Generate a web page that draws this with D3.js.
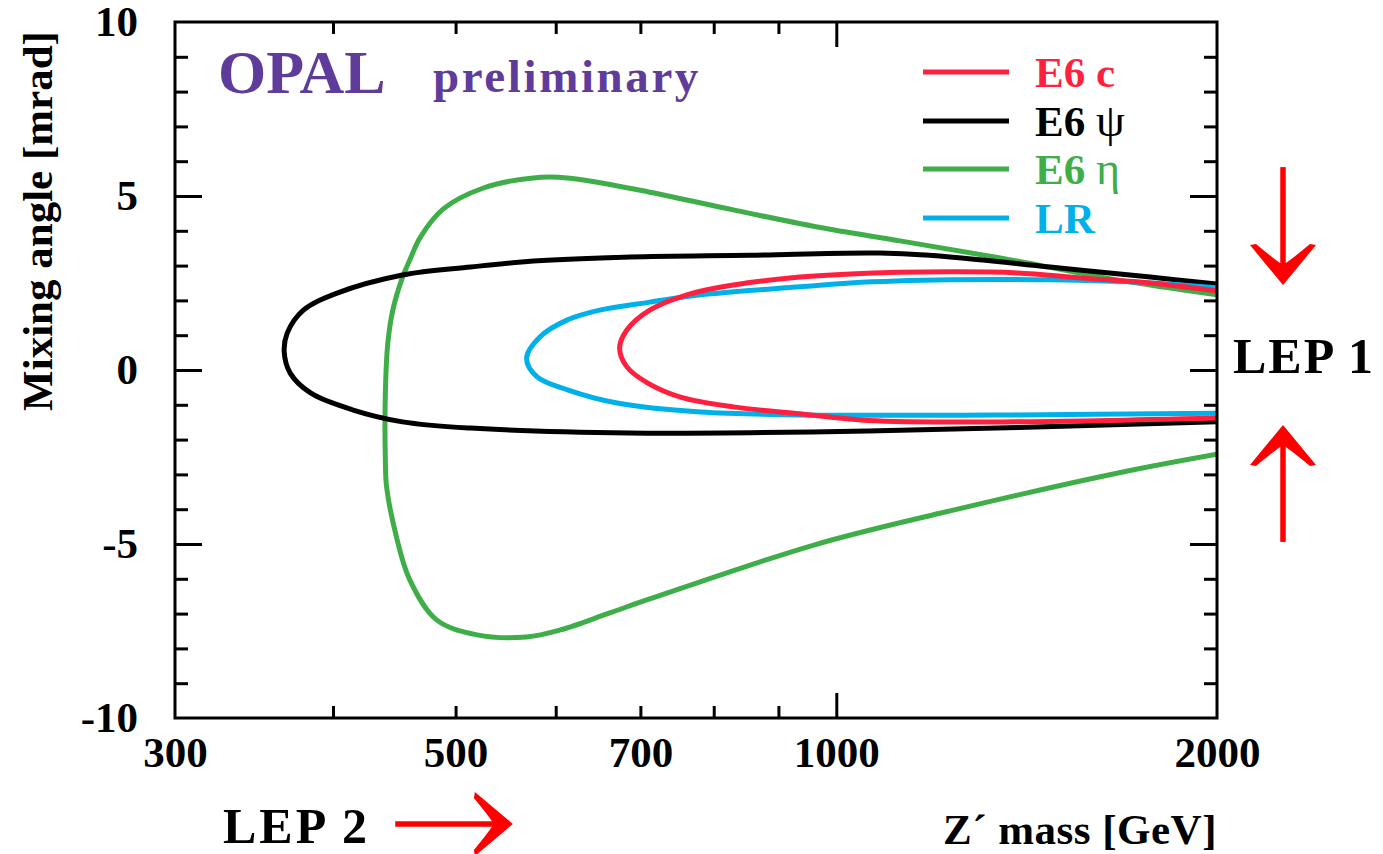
<!DOCTYPE html>
<html>
<head>
<meta charset="utf-8">
<script src="https://cdn.jsdelivr.net/npm/d3@7"></script>
<style>
  html, body { margin: 0; padding: 0; background: #fff; }
  svg { display: block; }
  text { font-family: "Liberation Serif", "Times New Roman", serif; font-weight: bold; }
</style>
</head>
<body>
<svg id="chart" width="1383" height="854"></svg>
<script>
// Z' mass [GeV] versus mixing angle [mrad]: 95% CL allowed-region contours
const massLabels = [300, 500, 700, 1000, 2000];
const massMinorTicks = [400, 500, 600, 700, 800, 900];
const massMajorTicks = [1000];
const angleLabels = [-10, -5, 0, 5, 10];
const angleMinorTicks = d3.range(-9, 10, 1).filter(v => v % 5 !== 0);
const angleMajorTicks = [-5, 0, 5];

const seriesNames = ["E6 c", "E6 ψ", "E6 η", "LR"];
const seriesColors = ["#ff1f3e", "#000000", "#3fae49", "#00b0e8"];

// each contour: [mass GeV, angle mrad], traced from the upper right around to the lower right
const contourE6c = [
  [2000, 2.27], [1771, 2.50], [1567, 2.64], [1390, 2.79], [1230, 2.82], [1026, 2.76],
  [936, 2.67], [829, 2.44], [762, 2.16], [712, 1.72], [683, 1.15], [674, 0.63],
  [683, 0.09], [709, -0.37], [753, -0.78], [829, -1.06], [936, -1.26], [1060, -1.45],
  [1382, -1.49], [2000, -1.38]
];
const contourE6psi = [
  [2000, 2.47], [1771, 2.67], [1476, 2.96], [1230, 3.25], [1083, 3.36], [855, 3.30],
  [687, 3.25], [576, 3.13], [514, 2.96], [454, 2.73], [403, 2.21], [379, 1.72],
  [368, 1.06], [366, 0.52], [370, -0.09], [384, -0.66], [415, -1.15], [454, -1.49],
  [514, -1.67], [687, -1.81], [1060, -1.75], [2000, -1.49]
];
const contourE6eta = [
  [2000, 2.16], [1667, 2.59], [1348, 3.22], [1123, 3.71], [966, 4.11], [829, 4.60],
  [712, 5.11], [613, 5.52], [576, 5.52], [526, 5.23], [489, 4.63], [469, 3.82],
  [460, 3.16], [454, 2.67], [446, 1.72], [442, 0.78], [440, -0.66], [440, -2.59],
  [441, -3.36], [449, -4.80], [460, -6.03], [483, -7.18], [520, -7.61], [569, -7.67],
  [605, -7.47], [662, -6.98], [712, -6.58], [960, -5.03], [1210, -4.11], [1685, -2.93],
  [2000, -2.42]
];
const contourLR = [
  [2000, 2.36], [1771, 2.50], [1476, 2.59], [1230, 2.59], [1026, 2.50], [936, 2.39],
  [781, 2.16], [712, 1.95], [650, 1.72], [613, 1.44], [583, 0.95], [569, 0.34],
  [580, -0.20], [613, -0.57], [671, -0.95], [781, -1.21], [936, -1.29], [1382, -1.29],
  [2000, -1.24]
];
const contours = [contourE6c, contourE6psi, contourE6eta, contourLR];

// LEP 1 excluded-angle arrows (mrad) and LEP 2 mass-reach arrow (GeV)
const lep1Upper = [5.83, 2.44];   // tail, tip
const lep1Lower = [-4.94, -1.58]; // tail, tip
const lep2Mass = [448, 555];      // tail, tip

const W = 1383, H = 854;
const plot = { left: 175, right: 1217, top: 22, bottom: 718 };
const serif = "'Liberation Serif', 'Times New Roman', serif";

const svg = d3.select("#chart");
svg.append("rect").attr("width", W).attr("height", H).attr("fill", "#fff");

const x = d3.scaleLog().domain([300, 2000]).range([plot.left, plot.right]);
const y = d3.scaleLinear().domain([-10, 10]).range([plot.bottom, plot.top]);

svg.append("defs").append("clipPath").attr("id", "plotClip")
  .append("rect")
  .attr("x", plot.left).attr("y", plot.top)
  .attr("width", plot.right - plot.left).attr("height", plot.bottom - plot.top);

// contours
const line = d3.line()
  .x(d => x(d[0])).y(d => y(d[1]))
  .curve(d3.curveCatmullRom.alpha(0.5));

const curves = svg.append("g").attr("clip-path", "url(#plotClip)");
// drawing order: green, black, cyan, red on top
[2, 1, 3, 0].forEach(i => {
  curves.append("path")
    .datum(contours[i])
    .attr("d", line)
    .attr("fill", "none")
    .attr("stroke", seriesColors[i])
    .attr("stroke-width", 5)
    .attr("stroke-linejoin", "round");
});

// ticks on all four sides, pointing inward
function tickAxis(axisFn, scale, values, size, translate) {
  const g = svg.append("g")
    .attr("transform", translate)
    .call(axisFn(scale).tickValues(values).tickSize(-size).tickFormat(""));
  g.select(".domain").remove();
  g.selectAll(".tick line").attr("stroke", "#000").attr("stroke-width", 3);
  return g;
}
tickAxis(d3.axisBottom, x, massMinorTicks, 12, `translate(0,${plot.bottom})`);
tickAxis(d3.axisBottom, x, massMajorTicks, 25, `translate(0,${plot.bottom})`);
tickAxis(d3.axisTop, x, massMinorTicks, 12, `translate(0,${plot.top})`);
tickAxis(d3.axisTop, x, massMajorTicks, 25, `translate(0,${plot.top})`);
tickAxis(d3.axisLeft, y, angleMinorTicks, 13, `translate(${plot.left},0)`);
tickAxis(d3.axisLeft, y, angleMajorTicks, 27, `translate(${plot.left},0)`);
tickAxis(d3.axisRight, y, angleMinorTicks, 13, `translate(${plot.right},0)`);
tickAxis(d3.axisRight, y, angleMajorTicks, 27, `translate(${plot.right},0)`);

// frame
svg.append("rect")
  .attr("x", plot.left).attr("y", plot.top)
  .attr("width", plot.right - plot.left).attr("height", plot.bottom - plot.top)
  .attr("fill", "none").attr("stroke", "#000").attr("stroke-width", 3);

// tick labels (plain hyphen for negatives)
const plainFormat = d => String(d);
const xLab = svg.append("g")
  .attr("transform", `translate(0,${plot.bottom})`)
  .call(d3.axisBottom(x).tickValues(massLabels).tickSize(0).tickPadding(18).tickFormat(plainFormat));
xLab.select(".domain").remove();
xLab.selectAll("text").attr("font-size", 43).attr("fill", "#000")
  .attr("font-family", serif).attr("font-weight", "bold");

const yLab = svg.append("g")
  .attr("transform", `translate(${plot.left},0)`)
  .call(d3.axisLeft(y).tickValues(angleLabels).tickSize(0).tickPadding(37).tickFormat(plainFormat));
yLab.select(".domain").remove();
yLab.selectAll("text").attr("font-size", 43).attr("fill", "#000")
  .attr("font-family", serif).attr("font-weight", "bold");

// axis titles
svg.append("text")
  .attr("transform", "translate(52,221) rotate(-90)")
  .attr("text-anchor", "middle")
  .attr("font-size", 43)
  .text("Mixing angle [mrad]");

svg.append("text")
  .attr("x", plot.right).attr("y", 844)
  .attr("text-anchor", "end")
  .attr("font-size", 43)
  .attr("letter-spacing", 0.5)
  .text("Z´ mass [GeV]");

// experiment label
svg.append("text").attr("x", 218).attr("y", 93)
  .attr("font-size", 62).attr("fill", "#5f3c99").text("OPAL");
svg.append("text").attr("x", 433).attr("y", 92)
  .attr("font-size", 47).attr("letter-spacing", 2.6).attr("fill", "#5f3c99").text("preliminary");

// legend
const legend = svg.append("g");
const legendRows = [72, 121, 169, 218];
seriesNames.forEach((name, i) => {
  const ly = legendRows[i];
  legend.append("line")
    .attr("x1", 923).attr("x2", 1009).attr("y1", ly).attr("y2", ly)
    .attr("stroke", seriesColors[i]).attr("stroke-width", 5);
  const t = legend.append("text")
    .attr("x", 1035).attr("y", ly + 15)
    .attr("font-size", 43).attr("fill", seriesColors[i]);
  const parts = name.split(" ");
  t.append("tspan").text(parts[0] + " ");
  if (parts[1]) {
    const greek = /[ψη]/.test(parts[1]);
    t.append("tspan")
      .attr("font-weight", greek ? "normal" : "bold")
      .attr("font-size", greek ? 46 : 43)
      .text(parts[1]);
  }
});

// arrows with swept, barbed heads
const arrowRed = "#ff0000";
function arrow(x1, y1, x2, y2, len, half) {
  const ang = Math.atan2(y2 - y1, x2 - x1) * 180 / Math.PI;
  const dist = Math.hypot(x2 - x1, y2 - y1);
  const g = svg.append("g").attr("transform", `translate(${x2},${y2}) rotate(${ang})`);
  g.append("line")
    .attr("x1", -dist).attr("y1", 0).attr("x2", -len * 0.45).attr("y2", 0)
    .attr("stroke", arrowRed).attr("stroke-width", 5.5);
  const L = len, Hh = half;
  g.append("path")
    .attr("d", `M0,0
                Q${-0.45 * L},${-0.45 * Hh} ${-L},${-Hh}
                L${-L - 1},${-Hh + 6}
                Q${-0.7 * L},${-0.35 * Hh} ${-0.5 * L},0
                Q${-0.7 * L},${0.35 * Hh} ${-L - 1},${Hh - 6}
                L${-L},${Hh}
                Q${-0.45 * L},${0.45 * Hh} 0,0 Z`)
    .attr("fill", arrowRed);
}
const xArrow = 1283;
arrow(xArrow, y(lep1Upper[0]), xArrow, y(lep1Upper[1]), 40, 33);
arrow(xArrow, y(lep1Lower[0]), xArrow, y(lep1Lower[1]), 40, 33);
arrow(x(lep2Mass[0]), 824, x(lep2Mass[1]), 824, 38, 32);

svg.append("text").attr("x", 1233).attr("y", 373)
  .attr("font-size", 50).attr("letter-spacing", 2).text("LEP 1");
svg.append("text").attr("x", 223).attr("y", 843)
  .attr("font-size", 50).attr("letter-spacing", 3).text("LEP 2");
</script>
</body>
</html>
